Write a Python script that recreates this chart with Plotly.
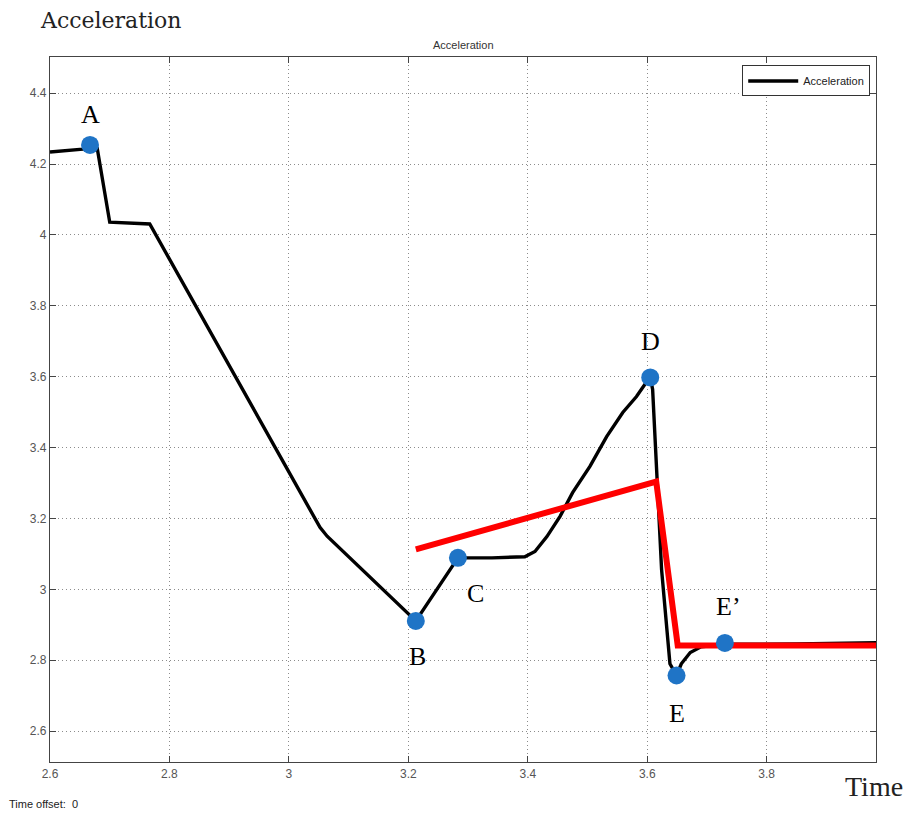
import plotly.graph_objects as go

# Acceleration trace (time in s, acceleration)
acc_t = [2.600, 2.655, 2.667, 2.679, 2.700, 2.767, 3.052, 3.064, 3.2125, 3.283, 3.340, 3.395,
         3.412, 3.432, 3.454, 3.475, 3.504, 3.532, 3.559, 3.582, 3.599, 3.605, 3.609, 3.624,
         3.638, 3.649, 3.657, 3.672, 3.690, 3.730, 3.850, 3.990]
acc_y = [4.234, 4.242, 4.250, 4.245, 4.036, 4.031, 3.175, 3.150, 2.911, 3.089, 3.089, 3.092,
         3.107, 3.149, 3.206, 3.273, 3.347, 3.431, 3.499, 3.544, 3.586, 3.598, 3.564, 3.056,
         2.790, 2.757, 2.790, 2.822, 2.838, 2.845, 2.846, 2.850]

# Red piecewise approximation
fit_t = [3.2125, 3.615, 3.651, 3.990]
fit_y = [3.113, 3.304, 2.842, 2.842]

# Labelled key points
pt_names = ["A", "B", "C", "D", "E", "E\u2019"]
pt_t = [2.667, 3.2125, 3.283, 3.605, 3.649, 3.730]
pt_y = [4.254, 2.911, 3.089, 3.598, 2.757, 2.849]
# label offsets in pixels (dx, dy)
pt_off = [(0, 30), (2, -36), (18, -36), (0, 36), (0, -38), (4, 36)]

x_ticks = [2.6, 2.8, 3.0, 3.2, 3.4, 3.6, 3.8]
x_tick_text = ["2.6", "2.8", "3", "3.2", "3.4", "3.6", "3.8"]
y_ticks = [2.6, 2.8, 3.0, 3.2, 3.4, 3.6, 3.8, 4.0, 4.2, 4.4]
y_tick_text = ["2.6", "2.8", "3", "3.2", "3.4", "3.6", "3.8", "4", "4.2", "4.4"]

fig = go.Figure()
fig.add_trace(go.Scatter(x=acc_t, y=acc_y, mode="lines", name="Acceleration",
                         line=dict(color="black", width=3.4)))
fig.add_trace(go.Scatter(x=fit_t, y=fit_y, mode="lines", showlegend=False,
                         line=dict(color="#ff0000", width=6)))
fig.add_trace(go.Scatter(x=pt_t, y=pt_y, mode="markers", showlegend=False,
                         marker=dict(color="#1f74c6", size=18)))

for name, t, y, (dx, dy) in zip(pt_names, pt_t, pt_y, pt_off):
    fig.add_annotation(x=t, y=y, text=name, showarrow=False, xshift=dx, yshift=dy,
                       font=dict(family="Liberation Serif", size=26, color="black"))

axis_common = dict(showline=True, linecolor="#444", linewidth=1.2, mirror="ticks",
                   ticks="inside", ticklen=6, tickcolor="#444",
                   showgrid=True, gridcolor="#8c8c8c", griddash="1px,3px", gridwidth=1.2,
                   zeroline=False,
                   tickfont=dict(family="Liberation Sans Narrow, Arial Narrow, Liberation Sans",
                                 size=12, color="#555"))

fig.update_xaxes(range=[2.6, 3.983], tickvals=x_ticks, ticktext=x_tick_text, **axis_common)
fig.update_yaxes(range=[2.513, 4.502], tickvals=y_ticks, ticktext=y_tick_text, **axis_common)

fig.add_annotation(xref="paper", yref="paper", x=0.5, y=1.0, yshift=4, yanchor="bottom",
                   text="Acceleration", showarrow=False,
                   font=dict(family="Liberation Sans", size=11, color="#333"))
fig.add_annotation(xref="paper", yref="paper", x=-0.015, y=1.0, yshift=22, xanchor="left",
                   yanchor="bottom", text="Acceleration", showarrow=False,
                   font=dict(family="DejaVu Serif", size=22, color="#222"))
fig.add_annotation(xref="paper", yref="paper", x=1.035, y=0.0, yshift=-42, xanchor="right",
                   yanchor="bottom", text="Time", showarrow=False,
                   font=dict(family="Liberation Serif", size=28, color="#222"))
fig.add_annotation(xref="paper", yref="paper", x=-0.052, y=0.0, yshift=-50, xanchor="left",
                   yanchor="bottom", text="Time offset:  0", showarrow=False,
                   font=dict(family="Liberation Sans Narrow, Liberation Sans", size=11, color="#222"))

fig.update_layout(
    width=908, height=814,
    margin=dict(l=50, r=32, t=57, b=52),
    paper_bgcolor="white", plot_bgcolor="white",
    legend=dict(x=0.993, y=0.988, xanchor="right", yanchor="top",
                bgcolor="white", bordercolor="#333", borderwidth=1,
                font=dict(family="Liberation Sans Narrow, Liberation Sans", size=11, color="#222"),
                itemwidth=50),
)

fig.write_html("out.html")
